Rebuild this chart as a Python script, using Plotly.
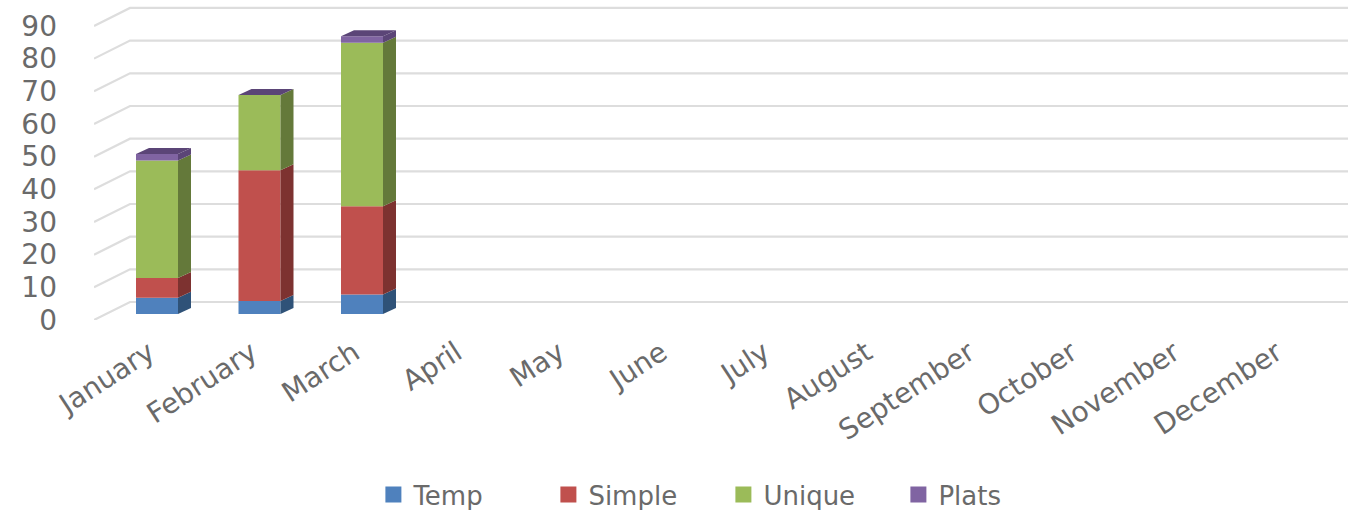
import plotly.graph_objects as go

months = ["January", "February", "March", "April", "May", "June", "July",
          "August", "September", "October", "November", "December"]
temp = [5, 4, 6, 0, 0, 0, 0, 0, 0, 0, 0, 0]
simple = [6, 40, 27, 0, 0, 0, 0, 0, 0, 0, 0, 0]
unique = [36, 23, 50, 0, 0, 0, 0, 0, 0, 0, 0, 0]
plats = [2, 0, 2, 0, 0, 0, 0, 0, 0, 0, 0, 0]
y_ticks = [0, 10, 20, 30, 40, 50, 60, 70, 80, 90]

series = [("Temp", temp, "#4F81BD", "#2F5278"),
          ("Simple", simple, "#C0504D", "#7D3230"),
          ("Unique", unique, "#9BBB59", "#64793A"),
          ("Plats", plats, "#8064A2", "#5B4577")]

# pixel geometry of the projection
L, T, W, H = 94, 0, 1254, 320
PX_X = 102.5                # px per category
PX_Y = 3.267                # px per value unit
X0 = (157 - L) / PX_X       # first category relative to axis start
xr = [-X0, (W / PX_X) - X0]
yr = [0, H / PX_Y]

wall_dx, wall_dy = 36 / PX_X, 18 / PX_Y
bar_w = 42 / PX_X
bar_dx, bar_dy = 13 / PX_X, 6 / PX_Y
floor = 6 / PX_Y

fig = go.Figure()
cum = [floor] * len(months)

for name, vals, col, dark in series:
    fig.add_trace(go.Bar(x=list(range(12)), y=vals, base=cum[:], width=bar_w, name=name,
                         marker=dict(color=col, line=dict(width=0)), hoverinfo="name+y",
                         showlegend=False))
    fig.add_trace(go.Scatter(x=[None], y=[None], mode="markers", name=name,
                             marker=dict(color=col, size=18, symbol="square")))
    for i, v in enumerate(vals):
        if v <= 0:
            continue
        xr_edge = i + bar_w / 2
        b, t = cum[i], cum[i] + v
        fig.add_trace(go.Scatter(
            x=[xr_edge, xr_edge + bar_dx, xr_edge + bar_dx, xr_edge, xr_edge],
            y=[b, b + bar_dy, t + bar_dy, t, b],
            mode="lines", fill="toself", fillcolor=dark, line=dict(width=0),
            showlegend=False, hoverinfo="skip"))
    cum = [c + v for c, v in zip(cum, vals)]

top_col = series[-1][3]
for i, t in enumerate(cum):
    if t <= floor:
        continue
    xl, xe = i - bar_w / 2, i + bar_w / 2
    fig.add_trace(go.Scatter(
        x=[xl, xe, xe + bar_dx, xl + bar_dx, xl],
        y=[t, t, t + bar_dy, t + bar_dy, t],
        mode="lines", fill="toself", fillcolor=top_col, line=dict(width=0),
        showlegend=False, hoverinfo="skip"))

shapes = []
for v in y_ticks:
    xs = [xr[0], xr[0] + wall_dx, xr[1]]
    ys = [v, v + wall_dy, v + wall_dy]
    path = "M %f,%f L %f,%f L %f,%f" % (xs[0], ys[0], xs[1], ys[1], xs[2], ys[2])
    shapes.append(dict(type="path", path=path, xref="x", yref="y", layer="below",
                       line=dict(color="#DDDDDD", width=2.2)))

font_col = "#6A6A6A"
fig.update_layout(
    width=1348, height=510, barmode="overlay", shapes=shapes,
    margin=dict(l=L, r=0, t=T, b=510 - H - T),
    paper_bgcolor="white", plot_bgcolor="white",
    font=dict(family="DejaVu Sans", color=font_col),
    legend=dict(orientation="h", x=0.277, xref="container", xanchor="left",
                y=0.03, yref="container", yanchor="middle",
                font=dict(size=26, color=font_col), traceorder="normal",
                itemsizing="trace", itemwidth=30,
                entrywidth=130, entrywidthmode="pixels"),
    xaxis=dict(range=xr, tickmode="array", tickvals=list(range(12)), ticktext=months,
               tickangle=-33, showgrid=False, zeroline=False, showline=False, ticks="",
               ticklabelstandoff=10, ticklabelshift=-8,
               tickfont=dict(size=28, color=font_col), automargin=False),
    yaxis=dict(range=yr, tickmode="array", tickvals=y_ticks, ticktext=[str(v) for v in y_ticks],
               showgrid=False, zeroline=False, showline=False, ticks="",
               ticklabelstandoff=36, tickfont=dict(size=28, color=font_col), automargin=False),
)
fig.write_html("out.html", post_script="document.body.style.margin='0';",
               config={"displayModeBar": False})
